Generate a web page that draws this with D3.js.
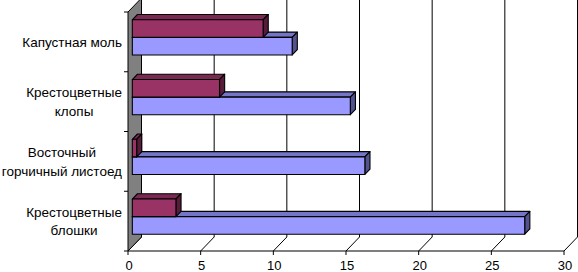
<!DOCTYPE html>
<html>
<head>
<meta charset="utf-8">
<script src="https://cdn.jsdelivr.net/npm/d3@7"></script>
<style>
  body { margin: 0; background: #fff; }
  svg { display: block; font-family: Arial, "Liberation Sans", sans-serif; }
</style>
</head>
<body>
<div id="chart-area"></div>
<script>
var width = 578;
var height = 272;

// data (top to bottom)
var categories = [
  ["Капустная моль"],
  ["Крестоцветные", "клопы"],
  ["Восточный", "горчичный листоед"],
  ["Крестоцветные", "блошки"]
];
var series = ["Ряд1", "Ряд2"];
var values1 = [11, 15, 16, 27];   // blue
var values2 = [9, 6, 0.3, 3];     // maroon
var xTicks = [0, 5, 10, 15, 20, 25, 30];

// 3D depth offset of the floor / back wall
var dx = 13.5, dy = -14;
// bars sit between these depth fractions
var b0 = 0.32, b1 = 0.7;

var svg = d3.select("#chart-area")
  .append("svg")
  .attr("width", width)
  .attr("height", height);

var x = d3.scaleLinear().domain([0, 30]).range([128, 564]);

var y = d3.scaleBand()
  .domain(d3.range(categories.length))
  .range([12, 251]);

var ySub = d3.scaleBand()
  .domain(["Ряд2", "Ряд1"])
  .range([0, y.bandwidth()])
  .paddingOuter(0.7);

var colors = {
  "Ряд1": { front: "#9999FF", top: "#7575C8", side: "#52528F" },
  "Ряд2": { front: "#993366", top: "#7A2952", side: "#561C3A" }
};

var yFront = 251, yTop = 12;

// back wall gridlines + floor lines
xTicks.forEach(function(t) {
  var xf = x(t), xb = x(t) + dx;
  svg.append("line")
    .attr("x1", xb).attr("x2", xb)
    .attr("y1", yTop + dy).attr("y2", yFront + dy)
    .attr("stroke", "#000").attr("stroke-width", 1);
  svg.append("line")
    .attr("x1", xb).attr("y1", yFront + dy)
    .attr("x2", xf).attr("y2", yFront)
    .attr("stroke", "#000").attr("stroke-width", 1);
  svg.append("line")
    .attr("x1", xf).attr("x2", xf)
    .attr("y1", yFront).attr("y2", yFront + 4)
    .attr("stroke", "#000").attr("stroke-width", 1);
  svg.append("text")
    .attr("x", xf + 1)
    .attr("y", 270)
    .attr("text-anchor", "middle")
    .attr("font-size", 13)
    .text(t);
});

// left wall
svg.append("polygon")
  .attr("points", [
    [x(0), yTop], [x(0) + dx, yTop + dy],
    [x(0) + dx, yFront + dy], [x(0), yFront]
  ].join(" "))
  .attr("fill", "#808080")
  .attr("stroke", "#000")
  .attr("stroke-width", 1);

// front floor edge
svg.append("line")
  .attr("x1", x(0)).attr("x2", x(30))
  .attr("y1", yFront).attr("y2", yFront)
  .attr("stroke", "#000").attr("stroke-width", 1.2);

// left axis ticks
d3.range(categories.length + 1).forEach(function(i) {
  var yy = i < categories.length ? y(i) : y(categories.length - 1) + y.bandwidth();
  svg.append("line")
    .attr("x1", x(0) - 4).attr("x2", x(0))
    .attr("y1", yy).attr("y2", yy)
    .attr("stroke", "#000");
});

// bars
function drawBar(i, s, v) {
  var c = colors[s];
  var ox = dx * b0, oy = dy * b0;
  var ddx = dx * (b1 - b0), ddy = dy * (b1 - b0);
  var x0 = x(0) + ox, x1 = x(v) + ox;
  var y0 = y(i) + ySub(s) + oy, y1 = y0 + ySub.bandwidth();
  var g = svg.append("g")
    .attr("stroke", "#000")
    .attr("stroke-width", 1.1)
    .attr("stroke-linejoin", "round");
  g.append("polygon")
    .attr("points", [[x0, y0], [x1, y0], [x1 + ddx, y0 + ddy], [x0 + ddx, y0 + ddy]].join(" "))
    .attr("fill", c.top);
  g.append("polygon")
    .attr("points", [[x1, y0], [x1 + ddx, y0 + ddy], [x1 + ddx, y1 + ddy], [x1, y1]].join(" "))
    .attr("fill", c.side);
  g.append("rect")
    .attr("x", x0).attr("y", y0)
    .attr("width", x1 - x0).attr("height", y1 - y0)
    .attr("fill", c.front);
}

categories.forEach(function(d, i) {
  drawBar(i, "Ряд1", values1[i]);
  drawBar(i, "Ряд2", values2[i]);
});

// category labels
var lineH = 18.5;
categories.forEach(function(lines, i) {
  var g = svg.append("g");
  var texts = lines.map(function(l, k) {
    return g.append("text")
      .attr("font-size", 13.5)
      .attr("text-anchor", "middle")
      .attr("y", y(i) + y.bandwidth() / 2 + (k - (lines.length - 1) / 2) * lineH + 5)
      .text(l);
  });
  var maxW = d3.max(texts, function(t) { return t.node().getComputedTextLength(); });
  var cx = Math.max(122 - maxW / 2, maxW / 2 + 1);
  texts.forEach(function(t) { t.attr("x", cx); });
});
</script>
</body>
</html>
